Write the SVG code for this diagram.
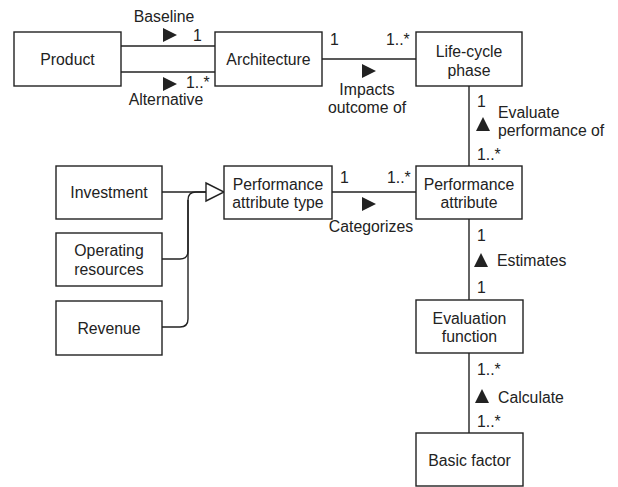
<svg xmlns="http://www.w3.org/2000/svg" width="618" height="487" viewBox="0 0 618 487">
<style>
.box{fill:#fff;stroke:#222;stroke-width:1.4}
.ln{fill:none;stroke:#222;stroke-width:1.4}
text{font-family:"Liberation Sans",Arial,sans-serif;font-size:15.8px;fill:#222}
.c{text-anchor:middle}
.tri{fill:#222}
</style>
<g id="connectors">
<line class="ln" x1="121" y1="46" x2="215" y2="46"/>
<line class="ln" x1="121" y1="72" x2="215" y2="72"/>
<line class="ln" x1="322" y1="59" x2="416" y2="59"/>
<line class="ln" x1="469" y1="86" x2="469" y2="166"/>
<line class="ln" x1="332" y1="192" x2="416" y2="192"/>
<line class="ln" x1="469" y1="219" x2="469" y2="300"/>
<line class="ln" x1="469" y1="353" x2="469" y2="433"/>
<line class="ln" x1="162" y1="192" x2="206" y2="192"/>
<path class="ln" d="M162,259 H180 Q188,259 188,251 V200 Q188,192 196,192 H206"/>
<path class="ln" d="M162,327 H180 Q188,327 188,319 V200"/>
<polygon points="206,183 224,192 206,201" fill="#fff" stroke="#222" stroke-width="1.4"/>
<polygon class="tri" points="163,28 177,35 163,42"/>
<polygon class="tri" points="163,77 177,84 163,91"/>
<polygon class="tri" points="362,64 376,71 362,78"/>
<polygon class="tri" points="362,197 376,204 362,211"/>
<polygon class="tri" points="476,131 483,117 490,131"/>
<polygon class="tri" points="474,267 481,253 488,267"/>
<polygon class="tri" points="475,403 482,389 489,403"/>
<text class="c" x="164" y="22">Baseline</text>
<text x="193" y="41">1</text>
<text x="186" y="88">1..*</text>
<text class="c" x="166" y="105">Alternative</text>
<text x="330" y="45">1</text>
<text x="386" y="45">1..*</text>
<text class="c" x="367" y="95">Impacts</text>
<text class="c" x="367" y="113">outcome of</text>
<text x="477" y="107">1</text>
<text x="498" y="118">Evaluate</text>
<text x="498" y="136">performance of</text>
<text x="477" y="160">1..*</text>
<text x="340" y="183">1</text>
<text x="387" y="183">1..*</text>
<text class="c" x="371" y="232">Categorizes</text>
<text x="477" y="241">1</text>
<text x="497" y="266">Estimates</text>
<text x="477" y="293">1</text>
<text x="477" y="375">1..*</text>
<text x="498" y="403">Calculate</text>
<text x="477" y="427">1..*</text>
</g>
<g id="product"><rect class="box" x="14" y="32" width="107" height="54"/><text class="c" x="67.5" y="65">Product</text></g>
<g id="architecture"><rect class="box" x="215" y="32" width="107" height="54"/><text class="c" x="268.5" y="65">Architecture</text></g>
<g id="lifecycle"><rect class="box" x="416" y="32" width="106" height="54"/><text class="c" x="469" y="57">Life-cycle</text><text class="c" x="469" y="76">phase</text></g>
<g id="investment"><rect class="box" x="56" y="166" width="106" height="53"/><text class="c" x="109" y="198">Investment</text></g>
<g id="operating"><rect class="box" x="56" y="233" width="106" height="53"/><text class="c" x="109" y="256">Operating</text><text class="c" x="109" y="275">resources</text></g>
<g id="revenue"><rect class="box" x="56" y="301" width="106" height="54"/><text class="c" x="109" y="334">Revenue</text></g>
<g id="pat"><rect class="box" x="224" y="166" width="108" height="53"/><text class="c" x="278" y="190">Performance</text><text class="c" x="278" y="208">attribute type</text></g>
<g id="pa"><rect class="box" x="416" y="166" width="106" height="53"/><text class="c" x="469" y="190">Performance</text><text class="c" x="469" y="208">attribute</text></g>
<g id="evalfn"><rect class="box" x="416" y="300" width="107" height="53"/><text class="c" x="469.5" y="324">Evaluation</text><text class="c" x="469.5" y="342">function</text></g>
<g id="basic"><rect class="box" x="416" y="433" width="107" height="53"/><text class="c" x="469.5" y="466">Basic factor</text></g>
</svg>
